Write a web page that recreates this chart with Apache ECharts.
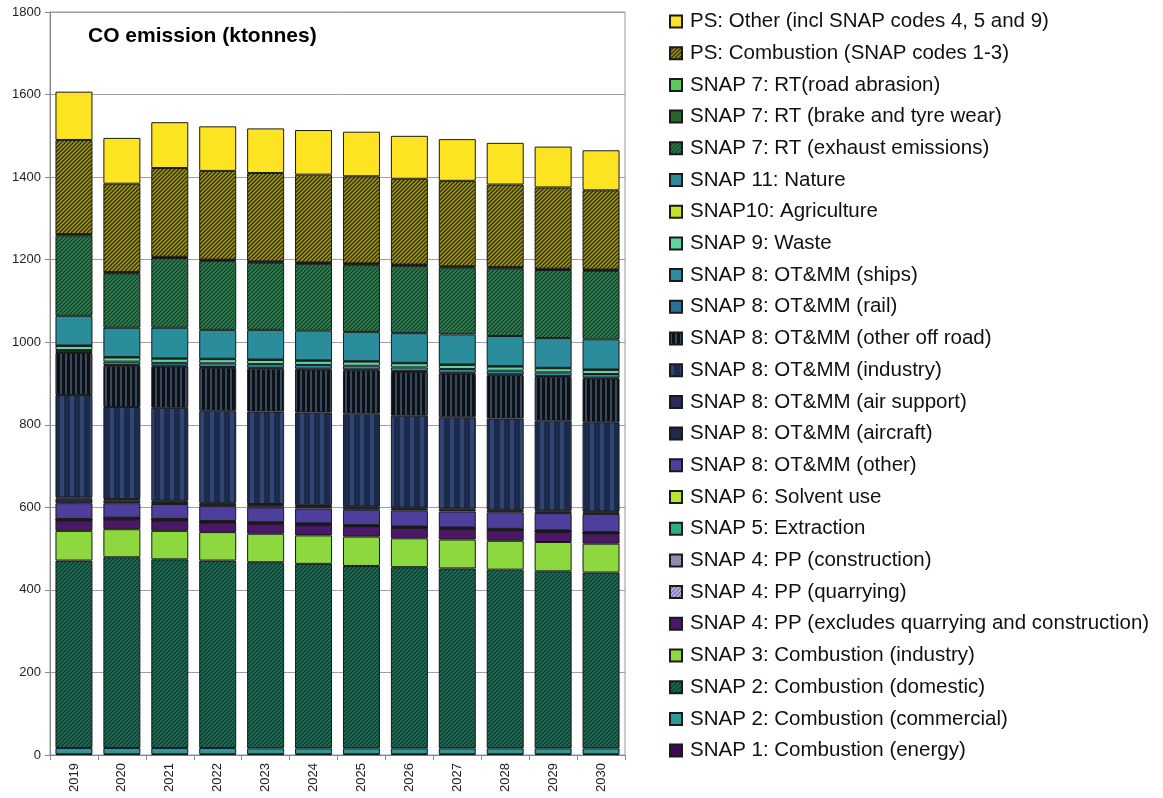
<!DOCTYPE html>
<html>
<head>
<meta charset="utf-8">
<script src="https://cdn.jsdelivr.net/npm/echarts@6/dist/echarts.min.js"></script>
<style>html,body{margin:0;padding:0;background:#fff;}#c{width:1163px;height:798px;}</style>
</head>
<body>
<div id="c"></div>
<script>
const years = ['2019','2020','2021','2022','2023','2024','2025','2026','2027','2028','2029','2030'];
const yTicks = [0,200,400,600,800,1000,1200,1400,1600,1800];

const snap1Energy      = [2,2,2,2,2,2,2,2,2,2,2,2];
const snap2Commercial  = [15,15,15,15,14,14,14,14,14,14,14,14];
const snap2Domestic    = [454,462,457,454,451,447,442,439,436,433,429,426];
const snap3Industry    = [72,68,69,69,69,69,71,70,70,70,71,70];
const snap4PPExcl      = [25,24,25,23,24,25,24,25,25,25,24,24];
const snap4Quarrying   = [1,1,1,1,1,1,1,1,1,1,1,1];
const snap4Construction= [1,1,1,1,1,1,1,1,1,1,1,1];
const snap5Extraction  = [1,1,1,1,1,1,1,1,1,1,1,1];
const snap6Solvent     = [1,1,1,1,1,1,1,1,1,1,1,1];
const snap8Other       = [38,35,36,36,36,36,37,38,39,40,42,44];
const snap8Aircraft    = [11,7,6,6,6,6,6,5,5,4,4,4];
const snap8AirSupport  = [3,3,2,2,2,2,2,2,2,2,2,2];
const snap8Industry    = [248,223,225,223,224,225,225,223,221,221,218,216];
const snap8OffRoad     = [102,100,100,104,104,104,105,106,106,105,106,106];
const snap8Rail        = [2,2,2,2,2,2,2,2,2,2,2,2];
const snap8Ships       = [5,8,7,9,9,9,9,9,9,9,9,9];
const snap9Waste       = [10,10,10,10,10,10,10,10,10,10,10,10];
const snap10Agri       = [1,1,1,1,1,1,1,1,1,1,1,1];
const snap11Nature     = [72,71,74,70,72,72,71,72,73,73,72,73];
const snap7Exhaust     = [195,132,169,167,163,162,163,163,162,164,165,166];
const snap7Brake       = [2,2,2,2,2,2,2,2,2,2,2,2];
const snap7Road        = [1,1,1,1,1,1,1,1,1,1,1,1];
const psCombustion     = [228,214,215,215,214,213,211,208,207,200,197,192];
const psOther          = [117,111,111,108,108,108,108,104,101,101,99,97];

function diag(base, line, size, lw) {
  const c = document.createElement('canvas');
  c.width = size; c.height = size;
  const g = c.getContext('2d');
  g.fillStyle = base; g.fillRect(0,0,size,size);
  g.strokeStyle = line; g.lineWidth = lw;
  g.beginPath();
  g.moveTo(0,size); g.lineTo(size,0);
  g.moveTo(-size/2,size/2); g.lineTo(size/2,-size/2);
  g.moveTo(size/2,size*1.5); g.lineTo(size*1.5,size/2);
  g.stroke();
  return {image: c, repeat: 'repeat'};
}
function vstripe(base, line, period, w) {
  const c = document.createElement('canvas');
  c.width = period; c.height = 4;
  const g = c.getContext('2d');
  g.fillStyle = base; g.fillRect(0,0,period,4);
  g.fillStyle = line; g.fillRect(0,0,w,4);
  return {image: c, repeat: 'repeat'};
}

const defs = [
  ['SNAP 1: Combustion (energy)', snap1Energy, '#3D0A4E'],
  ['SNAP 2: Combustion (commercial)', snap2Commercial, '#2A9A9A'],
  ['SNAP 2: Combustion (domestic)', snap2Domestic, diag('#1F6F5A','#0C3328',4,1.2)],
  ['SNAP 3: Combustion (industry)', snap3Industry, '#8DD83E'],
  ['SNAP 4: PP (excludes quarrying and construction)', snap4PPExcl, '#4B1868'],
  ['SNAP 4: PP (quarrying)', snap4Quarrying, diag('#B7A6D8','#6A5A98',4,1)],
  ['SNAP 4: PP (construction)', snap4Construction, diag('#A8A8C8','#5A5A80',3,1)],
  ['SNAP 5: Extraction', snap5Extraction, '#2AAF80'],
  ['SNAP 6: Solvent use', snap6Solvent, '#B8E62C'],
  ['SNAP 8: OT&MM (other)', snap8Other, '#4E3F9C'],
  ['SNAP 8: OT&MM (aircraft)', snap8Aircraft, diag('#253052','#151C34',3,1)],
  ['SNAP 8: OT&MM (air support)', snap8AirSupport, '#2B2A5C'],
  ['SNAP 8: OT&MM (industry)', snap8Industry, vstripe('#1C2A4E','#30456F',10,4)],
  ['SNAP 8: OT&MM (other off road)', snap8OffRoad, vstripe('#0C1018','#3A4858',5,2)],
  ['SNAP 8: OT&MM (rail)', snap8Rail, '#2A7396'],
  ['SNAP 8: OT&MM (ships)', snap8Ships, '#2B8E9E'],
  ['SNAP 9: Waste', snap9Waste, '#5FD69E'],
  ['SNAP10: Agriculture', snap10Agri, '#C9E024'],
  ['SNAP 11: Nature', snap11Nature, '#2B8C9C'],
  ['SNAP 7: RT (exhaust emissions)', snap7Exhaust, diag('#2F8050','#123A24',4,1.2)],
  ['SNAP 7: RT (brake and tyre wear)', snap7Brake, '#2A6430'],
  ['SNAP 7: RT(road abrasion)', snap7Road, '#5CC85C'],
  ['PS: Combustion (SNAP codes 1-3)', psCombustion, diag('#A39C1C','#2E2A05',4,1.3)],
  ['PS: Other (incl SNAP codes 4, 5 and 9)', psOther, '#FDE423']
];

const series = defs.map(d => ({
  name: d[0], type: 'bar', stack: 'all', data: d[1],
  barWidth: 37,
  itemStyle: {color: d[2], borderColor: '#1A1A1A', borderWidth: 1},
  emphasis: {disabled: true}
}));

const FONT = 'Liberation Sans, Arial, sans-serif';
const chart = echarts.init(document.getElementById('c'), null, {renderer: 'canvas'});
chart.setOption({
  animation: false,
  backgroundColor: '#fff',
  textStyle: {fontFamily: FONT},
  title: {
    text: 'CO emission (ktonnes)', left: 83, top: 21,
    textStyle: {fontSize: 21, fontWeight: 'bold', color: '#000', fontFamily: FONT}
  },
  grid: {left: 50, right: 538, top: 12, bottom: 43, show: true, borderColor: '#999', borderWidth: 1},
  legend: {
    orient: 'vertical', left: 664, top: 6,
    data: defs.map(d => d[0]).reverse(),
    icon: 'rect',
    itemWidth: 12, itemHeight: 12, itemGap: 10.7,
    textStyle: {fontSize: 20.5, lineHeight: 20, color: '#111', fontFamily: FONT, padding: [0,0,0,3]},
    selectedMode: false
  },
  xAxis: {
    type: 'category', data: years,
    axisLine: {lineStyle: {color: '#888'}},
    axisTick: {show: true, alignWithLabel: false, lineStyle: {color: '#888'}},
    axisLabel: {rotate: 90, fontSize: 13, color: '#222', margin: 8}
  },
  yAxis: {
    type: 'value', min: yTicks[0], max: yTicks[yTicks.length-1], interval: 200,
    axisLine: {show: true, lineStyle: {color: '#888'}},
    axisTick: {show: true, lineStyle: {color: '#888'}},
    axisLabel: {fontSize: 13, color: '#222', margin: 9, formatter: v => String(v)},
    splitLine: {lineStyle: {color: '#A0A0A0'}}
  },
  series: series
});
</script>
</body>
</html>
